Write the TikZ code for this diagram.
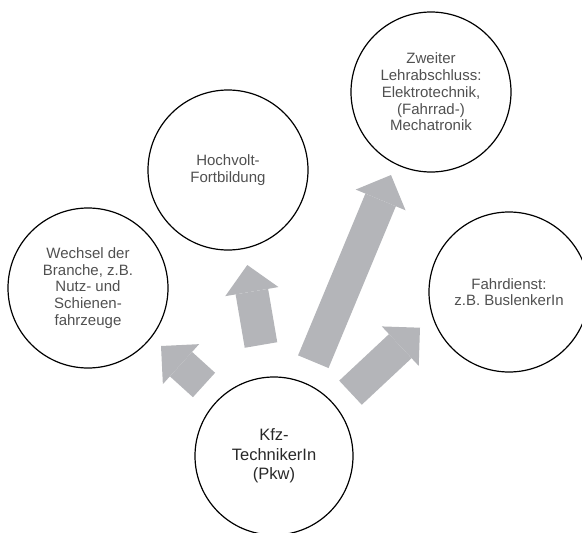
\documentclass[tikz,border=0pt]{standalone}
\usepackage{fontspec}
\setmainfont{Liberation Sans}
\usetikzlibrary{arrows.meta}
\definecolor{arrowgray}{RGB}{180,181,185}
\definecolor{txtgray}{RGB}{80,80,80}
\definecolor{txtdark}{RGB}{40,40,40}
\begin{document}
\begin{tikzpicture}[x=1pt,y=-1pt,
  bubble/.style={circle,draw=black,line width=1.2pt,minimum size=160pt,inner sep=0pt,
    align=center,text=txtgray,font=\fontsize{15}{16.7}\selectfont},
  mainbubble/.style={bubble,minimum size=158pt,text=txtdark,font=\fontsize{16.5}{19.5}\selectfont},
  blockarrow/.style={draw=arrowgray,line width=33pt,
    -{Triangle[length=27pt,width=54pt,line width=0pt,fill=arrowgray]}}]
\useasboundingbox (0,0) rectangle (582,533);
\node[bubble] (wechsel) at (88,288) {Wechsel der\\Branche, z.B.\\Nutz- und\\Schienen-\\fahrzeuge};
\node[bubble] (hochvolt) at (228,170) {Hochvolt-\\Fortbildung};
\node[bubble] (zweiter) at (431,92) {Zweiter\\Lehrabschluss:\\Elektrotechnik,\\(Fahrrad-)\\Mechatronik};
\node[bubble] (fahr) at (509,292) {Fahrdienst:\\z.B. BuslenkerIn};
\node[mainbubble] (kfz) at (274,456) {Kfz-\\TechnikerIn\\(Pkw)};
\coordinate (a1) at (204,385); \coordinate (a2) at (161,346);
\coordinate (b1) at (261,345); \coordinate (b2) at (247.3,265);
\coordinate (c1) at (313.3,361.7); \coordinate (c2) at (391,175);
\coordinate (d1) at (350.5,392.7); \coordinate (d2) at (420,327.7);
\draw[blockarrow] (a1) -- (a2);
\draw[blockarrow] (b1) -- (b2);
\draw[blockarrow] (c1) -- (c2);
\draw[blockarrow] (d1) -- (d2);
\end{tikzpicture}
\end{document}
